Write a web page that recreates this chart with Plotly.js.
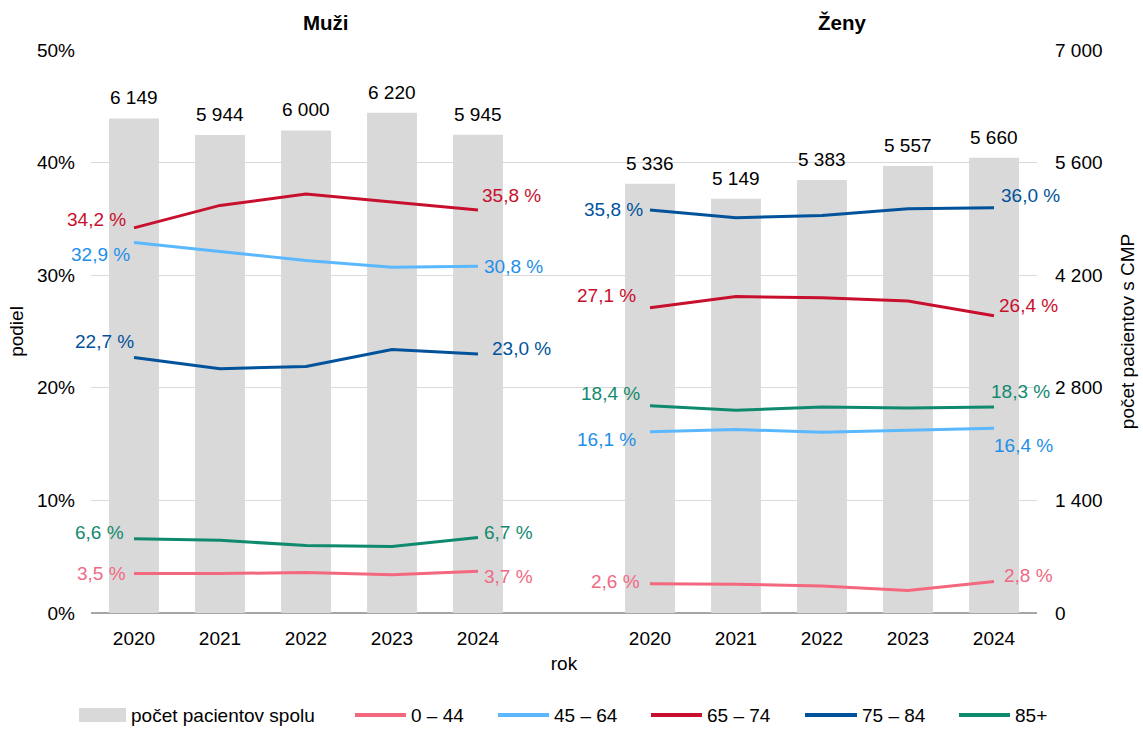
<!DOCTYPE html>
<html><head><meta charset="utf-8">
<script src="https://cdn.plot.ly/plotly-3.0.1.min.js"></script>
<style>html,body{margin:0;padding:0;background:#fff}#chart{width:1143px;height:729px}</style>
</head><body><div id="chart"></div>
<script>
// ---- data ----
const years = ['2020','2021','2022','2023','2024'];
const panels = ['Muži','Ženy'];
const barName = 'počet pacientov spolu';
const groups = ['0 – 44','45 – 64','65 – 74','75 – 84','85+'];
const totalMen   = [6149, 5944, 6000, 6220, 5945];
const totalWomen = [5336, 5149, 5383, 5557, 5660];
const men_0_44   = [3.5, 3.5, 3.6, 3.4, 3.7];
const men_45_64  = [32.9, 32.1, 31.3, 30.7, 30.8];
const men_65_74  = [34.2, 36.2, 37.2, 36.5, 35.8];
const men_75_84  = [22.7, 21.7, 21.9, 23.4, 23.0];
const men_85     = [6.6, 6.45, 6.0, 5.9, 6.7];
const women_0_44  = [2.6, 2.55, 2.4, 2.0, 2.8];
const women_45_64 = [16.1, 16.3, 16.05, 16.2, 16.4];
const women_65_74 = [27.1, 28.1, 28.0, 27.7, 26.4];
const women_75_84 = [35.8, 35.1, 35.3, 35.9, 36.0];
const women_85    = [18.4, 18.0, 18.3, 18.2, 18.3];
const pctTicks = [0, 10, 20, 30, 40, 50];
const countTicks = [0, 1400, 2800, 4200, 5600, 7000];

// ---- styles ----
const FS = 19;
const lineColors = ['#F4687F', '#5BB8FF', '#C8102E', '#00539B', '#108A6E'];
const labelColors = ['#F06A84', '#1E90E8', '#C8102E', '#00539B', '#138A6E'];
const barColor = '#D9D9D9';
// label offsets [xshift, yshift] per age group
const offMenL = [[-6,0],[-2,-12],[-6,8],[2,16],[-8,6]];
const offMenR = [[4,-5],[4,0],[2,14],[12,6],[4,5]];
const offWomL = [[-8,2],[-12,-8],[-12,12],[-5,0],[-8,12]];
const offWomR = [[8,6],[-2,-17],[3,10],[5,12],[-5,15]];
// manual legend layout (pixels): symbol start, symbol end
const legendPx = [[79,126],[355,406],[498,549],[651,702],[805,857],[959,1010]];
const plotL = 91, plotR = 1037, plotT = 50, plotB = 613, legendY = 715;

const fmtNum = v => String(v).replace(/\B(?=(\d{3})+(?!\d))/g, ' ');
const fmtPct = v => v.toFixed(1).replace('.', ',') + ' %';
const px2paperX = p => (p - plotL) / (plotR - plotL);
const px2paperY = p => (plotB - p) / (plotB - plotT);

const xMen = [0,1,2,3,4];
const xWom = [6,7,8,9,10];
const menSeries = [men_0_44, men_45_64, men_65_74, men_75_84, men_85];
const womSeries = [women_0_44, women_45_64, women_65_74, women_75_84, women_85];
const totals = totalMen.concat(totalWomen);
const xAll = xMen.concat(xWom);

const traces = [];
traces.push({
  type:'bar', name:barName, x:xAll, y:totals,
  marker:{color:barColor}, width:0.58, hoverinfo:'skip', yaxis:'y', showlegend:false
});
groups.forEach((g,i)=>{
  traces.push({type:'scatter', mode:'lines', name:g, x:xMen, y:menSeries[i], yaxis:'y2',
    line:{color:lineColors[i], width:3}, showlegend:false});
  traces.push({type:'scatter', mode:'lines', name:g, x:xWom, y:womSeries[i], yaxis:'y2',
    line:{color:lineColors[i], width:3}, showlegend:false});
});

const font = {family:'Liberation Sans, Arial, sans-serif', size:FS, color:'#000'};
const annotations = [];
const shapes = [];
// bar value labels
xAll.forEach((x,k)=>{
  annotations.push({x:x, y:totals[k], xref:'x', yref:'y', text:fmtNum(totals[k]), showarrow:false,
    xanchor:'center', yanchor:'bottom', yshift:8, font:{...font}});
});
function addLabels(xs, series, offL, offR){
  series.forEach((s,i)=>{
    annotations.push({x:xs[0], y:s[0], xref:'x', yref:'y2', text:fmtPct(s[0]), showarrow:false,
      xanchor:'right', yanchor:'middle', xshift:offL[i][0], yshift:offL[i][1],
      font:{...font, color:labelColors[i]}});
    annotations.push({x:xs[4], y:s[4], xref:'x', yref:'y2', text:fmtPct(s[4]), showarrow:false,
      xanchor:'left', yanchor:'middle', xshift:offR[i][0], yshift:offR[i][1],
      font:{...font, color:labelColors[i]}});
  });
}
addLabels(xMen, menSeries, offMenL, offMenR);
addLabels(xWom, womSeries, offWomL, offWomR);
annotations.push({x:2, y:px2paperY(22), xref:'x', yref:'paper', xshift:20, text:'<b>'+panels[0]+'</b>', showarrow:false, yanchor:'middle', font:{...font, size:20.5}});
annotations.push({x:8, y:px2paperY(22), xref:'x', yref:'paper', xshift:20, text:'<b>'+panels[1]+'</b>', showarrow:false, yanchor:'middle', font:{...font, size:20.5}});

// manual legend
const legNames = [barName].concat(groups);
const legColors = [barColor].concat(lineColors);
legNames.forEach((n,i)=>{
  const [a,b] = legendPx[i];
  if (i === 0) {
    shapes.push({type:'rect', xref:'paper', yref:'paper', x0:px2paperX(a), x1:px2paperX(b),
      y0:px2paperY(legendY+7), y1:px2paperY(legendY-7), fillcolor:barColor, line:{width:0}});
  } else {
    shapes.push({type:'line', xref:'paper', yref:'paper', x0:px2paperX(a), x1:px2paperX(b),
      y0:px2paperY(legendY), y1:px2paperY(legendY), line:{color:legColors[i], width:4}});
  }
  annotations.push({x:px2paperX(b+3), y:px2paperY(legendY), xref:'paper', yref:'paper', text:n,
    showarrow:false, xanchor:'left', yanchor:'middle', font:{...font}});
});

const layout = {
  width:1143, height:729,
  margin:{l:plotL, r:1143-plotR, t:plotT, b:729-plotB},
  paper_bgcolor:'#fff', plot_bgcolor:'#fff',
  font: font, showlegend:false,
  bargap:0.42,
  xaxis:{range:[-0.5,10.5], tickvals:xAll, ticktext:years.concat(years),
    showgrid:false, zeroline:false, showline:false, ticks:'', tickfont:{...font}, ticklabelstandoff:12,
    title:{text:'rok', font:{...font}, standoff:8}},
  yaxis:{range:[0,7000], side:'right', tickvals:countTicks, ticktext:countTicks.map(fmtNum),
    showgrid:true, gridcolor:'#D9D9D9', gridwidth:1, zeroline:true, zerolinecolor:'#A6A6A6', zerolinewidth:1.5,
    tickfont:{...font}, ticks:'', ticklabelstandoff:17,
    title:{text:'počet pacientov s CMP', font:{...font}, standoff:19}},
  yaxis2:{range:[0,50], side:'left', overlaying:'y', tickvals:pctTicks, ticktext:pctTicks.map(v=>v+'%'),
    showgrid:false, zeroline:false, tickfont:{...font}, ticks:'', ticklabelstandoff:15,
    title:{text:'podiel', font:{...font}, standoff:8}},
  annotations: annotations, shapes: shapes
};
Plotly.newPlot('chart', traces, layout, {staticPlot:true, displayModeBar:false});
</script></body></html>
